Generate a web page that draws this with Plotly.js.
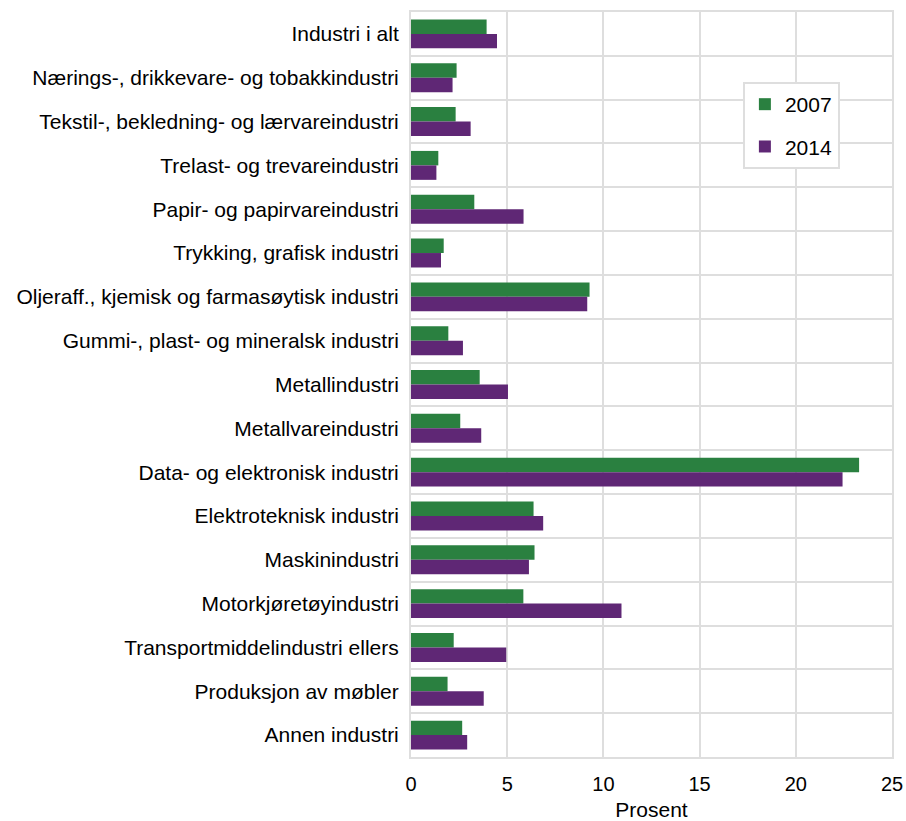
<!DOCTYPE html>
<html>
<head>
<meta charset="utf-8">
<script src="https://cdn.plot.ly/plotly-3.0.1.min.js"></script>
<style>html,body{margin:0;padding:0;background:#fff;}#chart{width:906px;height:821px;}</style>
</head>
<body>
<div id="chart"></div>
<script>
const categories = [
  "Industri i alt",
  "Nærings-, drikkevare- og tobakkindustri",
  "Tekstil-, bekledning- og lærvareindustri",
  "Trelast- og trevareindustri",
  "Papir- og papirvareindustri",
  "Trykking, grafisk industri",
  "Oljeraff., kjemisk og farmasøytisk industri",
  "Gummi-, plast- og mineralsk industri",
  "Metallindustri",
  "Metallvareindustri",
  "Data- og elektronisk industri",
  "Elektroteknisk industri",
  "Maskinindustri",
  "Motorkjøretøyindustri",
  "Transportmiddelindustri ellers",
  "Produksjon av møbler",
  "Annen industri"
];
const values2007 = [3.93, 2.37, 2.32, 1.42, 3.29, 1.70, 9.28, 1.94, 3.57, 2.56, 23.29, 6.37, 6.42, 5.84, 2.22, 1.90, 2.66];
const values2014 = [4.47, 2.16, 3.10, 1.32, 5.85, 1.56, 9.16, 2.70, 5.04, 3.65, 22.43, 6.87, 6.13, 10.94, 4.95, 3.78, 2.92];
const seriesNames = ["2007", "2014"];
const xTicks = [0, 5, 10, 15, 20, 25];

const font = "Liberation Sans, Arial, sans-serif";
const traces = [
  {type: "bar", orientation: "h", name: seriesNames[0], y: categories, x: values2007,
   marker: {color: "#2a8040"}, legendgroup: "a"},
  {type: "bar", orientation: "h", name: seriesNames[1], y: categories, x: values2014,
   marker: {color: "#5f2775"}, legendgroup: "b"}
];
const layout = {
  width: 906, height: 821,
  margin: {l: 411, r: 14, t: 12, b: 64},
  barmode: "group", bargap: 0.34, bargroupgap: 0,
  paper_bgcolor: "#fff", plot_bgcolor: "#fff",
  font: {family: font, size: 21, color: "#000"},
  xaxis: {
    range: [0, 25], tickvals: xTicks, ticktext: xTicks.map(String),
    showgrid: true, gridcolor: "#dedede", gridwidth: 2,
    showline: true, linecolor: "#dedede", linewidth: 2, mirror: true,
    zeroline: false, ticks: "", ticklen: 0, ticklabelstandoff: 8,
    tickfont: {family: font, size: 20, color: "#000"},
    title: {text: "Prosent", font: {family: font, size: 21, color: "#000"}, standoff: 14}
  },
  yaxis: {
    type: "category", autorange: "reversed", tickson: "boundaries",
    showgrid: true, gridcolor: "#dedede", gridwidth: 2,
    showline: true, linecolor: "#dedede", linewidth: 2, mirror: true,
    ticks: "", ticklen: 0, ticklabelstandoff: 6,
    tickfont: {family: font, size: 21, color: "#000"}
  },
  showlegend: true,
  legend: {
    x: 0.69, y: 0.906, xanchor: "left", yanchor: "top",
    bgcolor: "#fff", bordercolor: "#dedede", borderwidth: 2,
    font: {family: font, size: 21, color: "#000"},
    traceorder: "grouped", tracegroupgap: 12, itemwidth: 30
  }
};
Plotly.newPlot("chart", traces, layout, {displayModeBar: false, staticPlot: true});
</script>
</body>
</html>
